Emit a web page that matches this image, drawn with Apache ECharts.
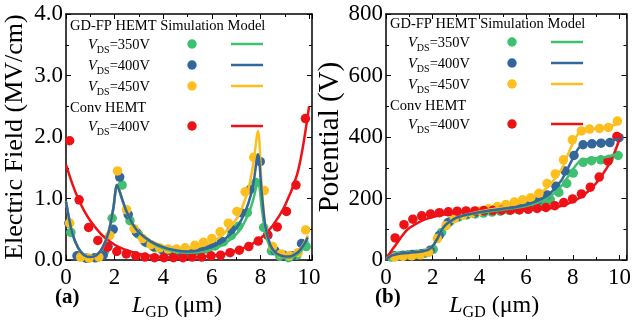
<!DOCTYPE html>
<html>
<head>
<meta charset="utf-8">
<script src="https://cdn.jsdelivr.net/npm/echarts@6/dist/echarts.min.js"></script>
<style>
  html, body { margin: 0; padding: 0; background: #fff; }
  #main { width: 634px; height: 326px; }
</style>
</head>
<body>
<div id="main"></div>
<script>
// ---- (a) electric field, simulation points [L_GD, E] ----
var fieldGreenPts = [[0.2,0.45],[0.55,0.06],[0.9,0.03],[1.25,0.04],[1.6,0.15],[1.9,0.68],[2.31,1.22],[2.63,0.64],[2.98,0.42],[3.33,0.28],[3.68,0.2],[4.03,0.15],[4.38,0.13],[4.73,0.12],[5.08,0.13],[5.43,0.15],[5.78,0.18],[6.13,0.23],[6.48,0.3],[6.8,0.4],[7.1,0.55],[7.46,0.77],[7.81,1.26],[8.13,0.53],[8.45,0.15],[8.8,0.06],[9.15,0.04],[9.5,0.08],[9.88,0.22]];
var fieldBluePts = [[0.12,0.6],[0.45,0.07],[0.82,0.03],[1.18,0.04],[1.53,0.08],[1.73,0.22],[1.94,0.5],[2.21,1.35],[2.56,0.74],[2.9,0.45],[3.25,0.3],[3.6,0.22],[3.95,0.17],[4.3,0.15],[4.65,0.14],[5.0,0.15],[5.35,0.17],[5.7,0.2],[6.05,0.24],[6.4,0.3],[6.8,0.5],[7.2,0.77],[7.58,1.15],[7.99,1.6],[8.3,0.4],[8.6,0.15],[8.95,0.08],[9.3,0.07],[9.69,0.27]];
var fieldYellowPts = [[0.15,0.6],[0.6,0.05],[0.95,0.03],[1.35,0.05],[1.8,0.4],[2.12,1.45],[2.49,0.82],[2.8,0.51],[3.15,0.35],[3.5,0.25],[3.85,0.2],[4.2,0.18],[4.55,0.18],[4.9,0.2],[5.3,0.24],[5.65,0.29],[6.0,0.35],[6.34,0.46],[6.68,0.6],[7.03,0.79],[7.37,1.11],[7.72,1.67],[8.16,1.13],[8.5,0.22],[8.85,0.1],[9.2,0.07],[9.55,0.12],[9.86,0.49]];
var fieldRedPts = [[0.15,1.94],[0.54,0.98],[0.93,0.53],[1.31,0.32],[1.7,0.21],[2.09,0.14],[2.48,0.1],[2.87,0.07],[3.25,0.05],[3.64,0.04],[4.03,0.04],[4.42,0.04],[4.81,0.04],[5.19,0.05],[5.58,0.05],[5.97,0.07],[6.36,0.08],[6.75,0.12],[7.13,0.16],[7.52,0.22],[7.91,0.31],[8.3,0.41],[8.69,0.54],[9.07,0.79],[9.46,1.22],[9.85,2.3]];

// ---- (a) model curves ----
var fieldLineX = [0,0.25,0.5,0.75,1,1.25,1.5,1.75,1.95,2.1,2.3,2.5,2.75,3,3.5,4,4.5,5,5.5,6,6.5,7,7.25,7.5,7.7,7.9,8.05,8.2,8.4,8.6,8.8,9,9.2,9.4,9.6,9.8,9.95];
var fieldGreenLine = [0.95,0.45,0.2,0.08,0.05,0.08,0.2,0.45,0.85,1.22,1.0,0.78,0.58,0.45,0.29,0.19,0.14,0.12,0.13,0.17,0.26,0.42,0.55,0.75,0.98,1.28,0.85,0.45,0.2,0.1,0.06,0.04,0.04,0.06,0.12,0.22,0.32];
var fieldBlueLine = [0.95,0.45,0.2,0.08,0.05,0.08,0.2,0.45,0.85,1.22,1.0,0.78,0.58,0.45,0.3,0.21,0.16,0.14,0.16,0.22,0.33,0.52,0.68,0.92,1.22,1.72,1.1,0.55,0.25,0.13,0.08,0.06,0.06,0.09,0.15,0.26,0.37];
var fieldYellowLine = [0.95,0.45,0.2,0.08,0.05,0.08,0.2,0.45,0.85,1.22,1.0,0.78,0.58,0.46,0.31,0.23,0.19,0.19,0.22,0.29,0.43,0.66,0.86,1.15,1.55,2.1,1.2,0.55,0.25,0.13,0.08,0.06,0.06,0.09,0.16,0.28,0.4];
var fieldRedLineX = [0,0.25,0.5,0.75,1,1.5,2,2.5,3,3.5,4,4.5,5,5.5,6,6.5,7,7.5,8,8.5,9,9.5,9.75,10];
var fieldRedLine = [1.55,1.25,1.0,0.8,0.64,0.4,0.25,0.16,0.1,0.07,0.05,0.04,0.04,0.05,0.07,0.1,0.15,0.23,0.35,0.56,0.88,1.38,1.85,2.5];

// ---- (b) potential, simulation points [L_GD, V] ----
var potGreenPts = [[0.22,10],[0.58,14],[0.94,17],[1.3,19],[1.66,22],[2.02,35],[2.38,90],[2.74,125],[3.1,140],[3.46,147],[3.82,150],[4.18,153],[4.54,156],[4.9,159],[5.26,162],[5.62,166],[5.98,172],[6.34,178],[6.7,186],[7.04,196],[7.4,220],[7.74,249],[8.02,283],[8.44,318],[8.8,323],[9.2,326],[9.56,328],[9.94,340]];
var potBluePts = [[0.35,14],[0.74,16],[1.12,18],[1.51,21],[1.89,32],[2.28,80],[2.66,122],[3.05,141],[3.43,150],[3.82,155],[4.2,160],[4.59,164],[4.97,168],[5.36,172],[5.74,177],[6.13,184],[6.51,195],[6.9,212],[7.28,240],[7.67,290],[8.05,340],[8.44,375],[8.82,378],[9.21,380],[9.59,382],[9.98,398]];
var potYellowPts = [[0.37,10],[0.73,12],[1.1,14],[1.47,17],[1.83,25],[2.2,70],[2.57,112],[2.93,135],[3.3,146],[3.67,153],[4.03,160],[4.4,167],[4.77,174],[5.13,181],[5.5,189],[5.85,196],[6.2,203],[6.55,217],[6.9,249],[7.25,280],[7.6,326],[7.98,391],[8.37,420],[8.72,426],[9.14,428],[9.52,431],[9.91,452]];
var potRedPts = [[0.39,72],[0.77,115],[1.15,133],[1.53,144],[1.91,150],[2.29,154],[2.67,157],[3.05,159],[3.43,160],[3.81,160],[4.19,161],[4.57,161],[4.95,162],[5.33,162],[5.71,163],[6.09,165],[6.47,168],[6.85,171],[7.23,177],[7.61,187],[7.99,199],[8.37,215],[8.75,237],[9.13,270],[9.51,322],[9.89,402]];

// ---- (b) model curves ----
var potLineX = [0,0.25,0.5,1,1.5,1.8,2,2.2,2.4,2.6,2.8,3,3.3,3.6,4,4.5,5,5.5,6,6.5,7,7.5,7.8,8.1,8.3,8.6,9,9.5,10];
var potGreenLine = [2,15,20,24,28,33,45,70,100,118,128,137,144,149,154,159,164,169,176,187,205,240,272,305,322,328,331,336,348];
var potBlueLine = [2,15,20,24,28,33,45,70,100,118,128,137,145,150,156,162,167,172,180,193,215,258,300,345,368,378,381,385,395];
var potYellowLine = [2,15,20,24,28,33,45,70,100,118,128,137,145,151,158,165,172,181,193,212,243,293,345,395,415,423,428,433,445];
var potRedLineX = [0,0.25,0.5,0.75,1,1.5,2,2.5,3,3.5,4,5,6,7,7.5,8,8.5,9,9.5,9.8,10.05];
var potRedLine = [3,32,58,85,104,127,140,148,153,156,158,161,163,168,176,190,213,250,305,352,405];

var legendRows = ["350V", "400V", "450V"];

var GREEN = "#3fc06f", BLUE = "#33679c", YELLOW = "#fdbf1e", RED = "#ee1115";
var FONT = "Liberation Serif";

var myChart = echarts.init(document.getElementById("main"));

function pairs(xs, ys) {
  return xs.map(function (x, i) { return [x, ys[i]]; });
}

var grids = [
  { left: 66, top: 14, width: 246, height: 253 },
  { left: 386, top: 14, width: 246, height: 253 },
];

function xAx(g, max, top) {
  return {
    type: "value", gridIndex: g, position: top ? "top" : "bottom",
    min: 0, max: max, interval: 2,
    axisLine: { show: true, onZero: false, lineStyle: { color: "#000", width: 1.5 } },
    axisTick: { show: true, inside: true, length: 5, lineStyle: { color: "#000" } },
    minorTick: { show: true, splitNumber: 2, length: 3, lineStyle: { color: "#000" } },
    splitLine: { show: false },
    axisLabel: {
      show: !top, showMaxLabel: false, margin: 6,
      color: "#000", fontFamily: FONT, fontSize: 23,
    },
    name: top ? "" : "{i|L}{s|GD}{n| (μm)}",
    nameLocation: "middle", nameGap: 24,
    nameTextStyle: {
      padding: [0, 24, 0, 0],
      rich: {
        i: { fontFamily: FONT, fontSize: 24, fontStyle: "italic", color: "#000", lineHeight: 30, verticalAlign: "middle" },
        s: { fontFamily: FONT, fontSize: 16, color: "#000", lineHeight: 30, verticalAlign: "bottom" },
        n: { fontFamily: FONT, fontSize: 24, color: "#000", lineHeight: 30, verticalAlign: "middle" },
      },
    },
  };
}

function yAx(g, max, interval, right, title, digits, titleSize) {
  return {
    type: "value", gridIndex: g, position: right ? "right" : "left",
    min: 0, max: max, interval: interval,
    axisLine: { show: true, onZero: false, lineStyle: { color: "#000", width: 1.5 } },
    axisTick: { show: true, inside: true, length: 5, lineStyle: { color: "#000" } },
    minorTick: { show: true, splitNumber: 2, length: 3, lineStyle: { color: "#000" } },
    splitLine: { show: false },
    axisLabel: {
      show: !right, margin: 3, color: "#000", fontFamily: FONT, fontSize: 23,
      formatter: function (v) { return v.toFixed(digits); },
    },
    name: right ? "" : title,
    nameLocation: "middle", nameGap: 38,
    nameTextStyle: { color: "#000", fontFamily: FONT, fontSize: titleSize || 25 },
  };
}

function dots(data, color, xi, yi) {
  return {
    type: "scatter", data: data, xAxisIndex: xi, yAxisIndex: yi,
    symbol: "circle", symbolSize: 9.5, itemStyle: { color: color, opacity: 1 },
    z: 2, silent: true,
  };
}

function curve(data, color, xi, yi) {
  return {
    type: "line", data: data, xAxisIndex: xi, yAxisIndex: yi,
    smooth: 0.3, showSymbol: false, lineStyle: { color: color, width: 2.5 },
    z: 3, silent: true,
  };
}

var legRich = {
  i: { fontFamily: FONT, fontSize: 14.5, fontStyle: "italic", fill: "#000", lineHeight: 20, verticalAlign: "middle" },
  s: { fontFamily: FONT, fontSize: 10, fill: "#000", lineHeight: 20, verticalAlign: "bottom" },
  n: { fontFamily: FONT, fontSize: 14.5, fill: "#000", lineHeight: 20, verticalAlign: "middle" },
};

function legend(ox, oy) {
  var els = [];
  var colors = [GREEN, BLUE, YELLOW, RED];
  var rowY = [oy + 30, oy + 51, oy + 72, oy + 112];
  els.push({ type: "text", x: ox + 4, y: oy + 12,
    style: { text: "GD-FP HEMT Simulation Model", font: "14.5px " + FONT, fill: "#000", verticalAlign: "middle" } });
  els.push({ type: "text", x: ox + 4, y: oy + 94,
    style: { text: "Conv HEMT", font: "14.5px " + FONT, fill: "#000", verticalAlign: "middle" } });
  for (var k = 0; k < 4; k++) {
    var lbl = k < 3 ? legendRows[k] : "400V";
    els.push({ type: "text", x: ox + 22, y: rowY[k] + 1,
      style: { text: "{i|V}{s|DS}{n|=" + lbl + "}", rich: legRich, verticalAlign: "middle" } });
    els.push({ type: "circle", shape: { cx: ox + 126, cy: rowY[k], r: 4.7 }, style: { fill: colors[k] } });
    els.push({ type: "line", shape: { x1: ox + 165, y1: rowY[k], x2: ox + 197, y2: rowY[k] },
      style: { stroke: colors[k], lineWidth: 2.5 } });
  }
  return els;
}

var graphics = legend(66, 14).concat(legend(386, 12));
graphics.push({ type: "text", x: 55, y: 298,
  style: { text: "(a)", font: "bold 21px " + FONT, fill: "#000", verticalAlign: "middle" } });
graphics.push({ type: "text", x: 375, y: 298,
  style: { text: "(b)", font: "bold 21px " + FONT, fill: "#000", verticalAlign: "middle" } });

var option = {
  animation: false,
  backgroundColor: "#fff",
  grid: grids,
  xAxis: [xAx(0, 10.12, false), xAx(0, 10.12, true), xAx(1, 10.3, false), xAx(1, 10.3, true)],
  yAxis: [
    yAx(0, 4, 1, false, "Electric Field (MV/cm)", 1, 26),
    yAx(0, 4, 1, true, "", 1),
    yAx(1, 800, 200, false, "Potential (V)", 0, 29),
    yAx(1, 800, 200, true, "", 0),
  ],
  graphic: graphics,
  series: [
    dots(fieldGreenPts, GREEN, 0, 0),
    dots(fieldBluePts, BLUE, 0, 0),
    dots(fieldYellowPts, YELLOW, 0, 0),
    dots(fieldRedPts, RED, 0, 0),
    curve(pairs(fieldRedLineX, fieldRedLine), RED, 0, 0),
    curve(pairs(fieldLineX, fieldGreenLine), GREEN, 0, 0),
    curve(pairs(fieldLineX, fieldYellowLine), YELLOW, 0, 0),
    curve(pairs(fieldLineX, fieldBlueLine), BLUE, 0, 0),

    dots(potGreenPts, GREEN, 2, 2),
    dots(potBluePts, BLUE, 2, 2),
    dots(potYellowPts, YELLOW, 2, 2),
    dots(potRedPts, RED, 2, 2),
    curve(pairs(potRedLineX, potRedLine), RED, 2, 2),
    curve(pairs(potLineX, potGreenLine), GREEN, 2, 2),
    curve(pairs(potLineX, potYellowLine), YELLOW, 2, 2),
    curve(pairs(potLineX, potBlueLine), BLUE, 2, 2),
  ],
};

myChart.setOption(option);
</script>
</body>
</html>
